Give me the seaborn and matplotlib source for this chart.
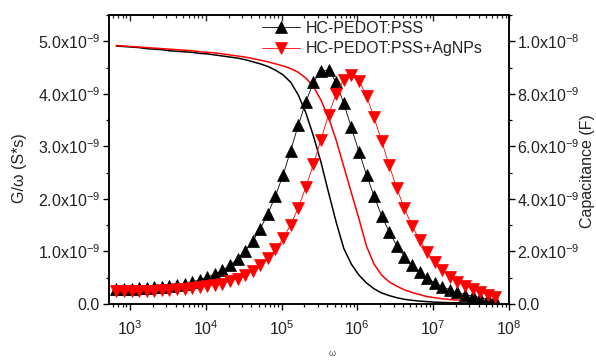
import numpy as np
import pandas as pd
import matplotlib
matplotlib.use("Agg")
import matplotlib.pyplot as plt
import matplotlib.ticker as mticker
import seaborn as sns

# Frequency sweep (rad/s), 10 points per decade
omega = [6.61e2, 8.32e2, 1.05e3, 1.32e3, 1.66e3, 2.09e3, 2.63e3, 3.31e3, 4.17e3, 5.25e3,
         6.61e3, 8.32e3, 1.05e4, 1.32e4, 1.66e4, 2.09e4, 2.63e4, 3.31e4, 4.17e4, 5.25e4,
         6.61e4, 8.32e4, 1.05e5, 1.32e5, 1.66e5, 2.09e5, 2.63e5, 3.31e5, 4.17e5, 5.25e5,
         6.61e5, 8.32e5, 1.05e6, 1.32e6, 1.66e6, 2.09e6, 2.63e6, 3.31e6, 4.17e6, 5.25e6,
         6.61e6, 8.32e6, 1.05e7, 1.32e7, 1.66e7, 2.09e7, 2.63e7, 3.31e7, 4.17e7, 5.25e7,
         6.61e7]

# G/omega (nS*s)
g_pss = [0.29, 0.29, 0.29, 0.30, 0.31, 0.32, 0.33, 0.345, 0.36, 0.39,
         0.42, 0.46, 0.51, 0.57, 0.64, 0.74, 0.86, 1.01, 1.20, 1.43,
         1.72, 2.06, 2.46, 2.92, 3.40, 3.84, 4.22, 4.44, 4.45, 4.22,
         3.82, 3.36, 2.90, 2.46, 2.05, 1.68, 1.37, 1.11, 0.90, 0.74,
         0.60, 0.49, 0.40, 0.33, 0.27, 0.22, 0.18, 0.15, 0.12, 0.10,
         0.08]
g_ag = [0.24, 0.24, 0.24, 0.245, 0.25, 0.25, 0.26, 0.27, 0.28, 0.29,
        0.30, 0.32, 0.34, 0.36, 0.39, 0.43, 0.48, 0.55, 0.63, 0.74,
        0.87, 1.04, 1.25, 1.51, 1.83, 2.22, 2.66, 3.13, 3.60, 4.00,
        4.27, 4.36, 4.25, 3.96, 3.55, 3.10, 2.64, 2.20, 1.82, 1.49,
        1.22, 0.99, 0.80, 0.65, 0.52, 0.42, 0.34, 0.28, 0.22, 0.18,
        0.14]

# Capacitance (nF)
c_pss = [9.82, 9.80, 9.78, 9.76, 9.72, 9.70, 9.68, 9.64, 9.62, 9.60,
         9.58, 9.54, 9.52, 9.48, 9.44, 9.40, 9.36, 9.30, 9.22, 9.14,
         9.04, 8.90, 8.72, 8.44, 7.96, 7.28, 6.40, 5.40, 4.24, 3.12,
         2.12, 1.52, 1.10, 0.80, 0.58, 0.42, 0.32, 0.24, 0.18, 0.14,
         0.11, 0.09, 0.07, 0.06, 0.05, 0.05, 0.04, 0.04, 0.04, 0.04,
         0.04]
c_ag = [9.84, 9.82, 9.80, 9.78, 9.76, 9.74, 9.72, 9.70, 9.68, 9.66,
        9.64, 9.60, 9.58, 9.56, 9.52, 9.48, 9.44, 9.40, 9.34, 9.28,
        9.22, 9.14, 9.06, 8.96, 8.82, 8.60, 8.28, 7.76, 7.10, 6.24,
        5.24, 4.24, 3.24, 2.20, 1.52, 1.10, 0.84, 0.68, 0.54, 0.44,
        0.36, 0.28, 0.24, 0.20, 0.17, 0.15, 0.13, 0.12, 0.10, 0.09,
        0.08]

# Axis ticks
g_ticks = [0.0, 1e-9, 2e-9, 3e-9, 4e-9, 5e-9]
c_ticks = [0.0, 2e-9, 4e-9, 6e-9, 8e-9, 1e-8]
w_ticks = [1e3, 1e4, 1e5, 1e6, 1e7, 1e8]

labels = ["HC-PEDOT:PSS", "HC-PEDOT:PSS+AgNPs"]
colors = ["black", "#ff0000"]

df = pd.DataFrame({
    "omega": omega,
    "g_pss": np.array(g_pss) * 1e-9,
    "g_ag": np.array(g_ag) * 1e-9,
    "c_pss": np.array(c_pss) * 1e-9,
    "c_ag": np.array(c_ag) * 1e-9,
})

sns.set_theme(style="ticks")
plt.rcParams["font.family"] = ["Liberation Sans", "DejaVu Sans"]
plt.rcParams["mathtext.fontset"] = "custom"
plt.rcParams["mathtext.rm"] = "Liberation Sans"
plt.rcParams["mathtext.it"] = "Liberation Sans:italic"
FS = 11.5
TXT = "#222222"

fig = plt.figure(figsize=(5.96, 3.6), dpi=100)
ax = fig.add_axes([109 / 596, 1 - 304 / 360, 400 / 596, 289 / 360])
ax2 = ax.twinx()

# Capacitance curves (right axis)
sns.lineplot(data=df, x="omega", y="c_pss", ax=ax2, color=colors[0], linewidth=1.1,
             legend=False)
sns.lineplot(data=df, x="omega", y="c_ag", ax=ax2, color=colors[1], linewidth=1.1,
             legend=False)

# G/omega (left axis)
markers = ["^", "v"]
handles = []
for col, c, m, lab in zip(["g_pss", "g_ag"], colors, markers, labels):
    sns.lineplot(data=df, x="omega", y=col, ax=ax, color=c, linewidth=0.6,
                 marker=m, markersize=8.8, markeredgecolor=c, markerfacecolor=c,
                 markeredgewidth=0.5, legend=False)
    handles.append(ax.lines[-1])

for a in (ax, ax2):
    a.set_xscale("log")
    a.set_xlim(530, 1e8)
    a.set_xlabel("")

ax.set_ylim(0, 5.5e-9)
ax2.set_ylim(0, 1.1e-8)


def sci_fmt(v, pos=None):
    if abs(v) < 1e-15:
        return "0.0"
    e = int(np.floor(np.log10(v) + 1e-9))
    m = v / 10 ** e
    return f"{m:.1f}x10" + r"$^{\mathregular{" + str(e) + "}}$"


ax.yaxis.set_major_locator(mticker.FixedLocator(g_ticks))
ax.yaxis.set_minor_locator(mticker.FixedLocator(
    [t + 0.5e-9 for t in g_ticks]))
ax.yaxis.set_major_formatter(mticker.FuncFormatter(sci_fmt))
ax2.yaxis.set_major_locator(mticker.FixedLocator(c_ticks))
ax2.yaxis.set_minor_locator(mticker.FixedLocator(
    [t + 1e-9 for t in c_ticks]))
ax2.yaxis.set_major_formatter(mticker.FuncFormatter(sci_fmt))

ax.xaxis.set_major_locator(mticker.FixedLocator(w_ticks))
ax.xaxis.set_minor_locator(mticker.LogLocator(base=10, subs=np.arange(2, 10), numticks=12))
ax.xaxis.set_major_formatter(mticker.FuncFormatter(
    lambda v, p: r"$\mathregular{10^{%d}}$" % int(round(np.log10(v)))))
ax.xaxis.set_minor_formatter(mticker.NullFormatter())

for a in (ax, ax2):
    for s in a.spines.values():
        s.set_visible(True)
        s.set_linewidth(1.1)
        s.set_color("black")

ax.tick_params(axis="both", which="major", direction="out", length=4, width=1.0,
               labelsize=FS, colors="black", labelcolor=TXT, pad=2.5)
ax.tick_params(axis="x", which="major", length=4.5, pad=6.5)
ax.tick_params(axis="both", which="minor", direction="out", length=2.2, width=0.9,
               colors="black")
ax2.tick_params(axis="y", which="major", direction="out", length=4, width=1.0,
                labelsize=FS, colors="black", labelcolor=TXT, pad=2)
ax2.tick_params(axis="y", which="minor", direction="out", length=2.2, width=0.9,
                colors="black")
ax2.tick_params(axis="x", which="both", bottom=False, top=False, labelbottom=False,
                labeltop=False)

# Mirrored ticks along the top edge, pointing into the plot
top = ax.secondary_xaxis("top")
top.xaxis.set_major_locator(mticker.FixedLocator(w_ticks))
top.xaxis.set_minor_locator(mticker.LogLocator(base=10, subs=np.arange(2, 10), numticks=12))
top.xaxis.set_major_formatter(mticker.NullFormatter())
top.xaxis.set_minor_formatter(mticker.NullFormatter())
top.tick_params(which="major", direction="in", length=4, width=1.0, labeltop=False)
top.tick_params(which="minor", direction="in", length=2.2, width=0.9)
top.spines["top"].set_linewidth(1.1)

ax.set_ylabel("G/\u03c9 (S*s)", fontsize=FS, color=TXT)
ax.yaxis.set_label_coords(-0.205, 0.47)
ax2.set_ylabel("Capacitance (F)", fontsize=FS, color=TXT)
ax2.yaxis.set_label_coords(1.178, 0.46)
fig.text(332 / 596, 1 - 354 / 360, "\u03c9", fontsize=6.5, color="#555555",
         ha="center", va="center")

leg = ax.legend(handles, labels, loc="upper left", frameon=False, fontsize=FS,
                bbox_to_anchor=(262 / 596, 1 - 21 / 360), bbox_transform=fig.transFigure,
                borderpad=0, borderaxespad=0, handlelength=2.4, handletextpad=0.35,
                labelspacing=0.32)
for t in leg.get_texts():
    t.set_color(TXT)

ax.set_zorder(ax2.get_zorder() + 1)
ax.patch.set_visible(False)

fig.savefig("out.png", dpi=100)
